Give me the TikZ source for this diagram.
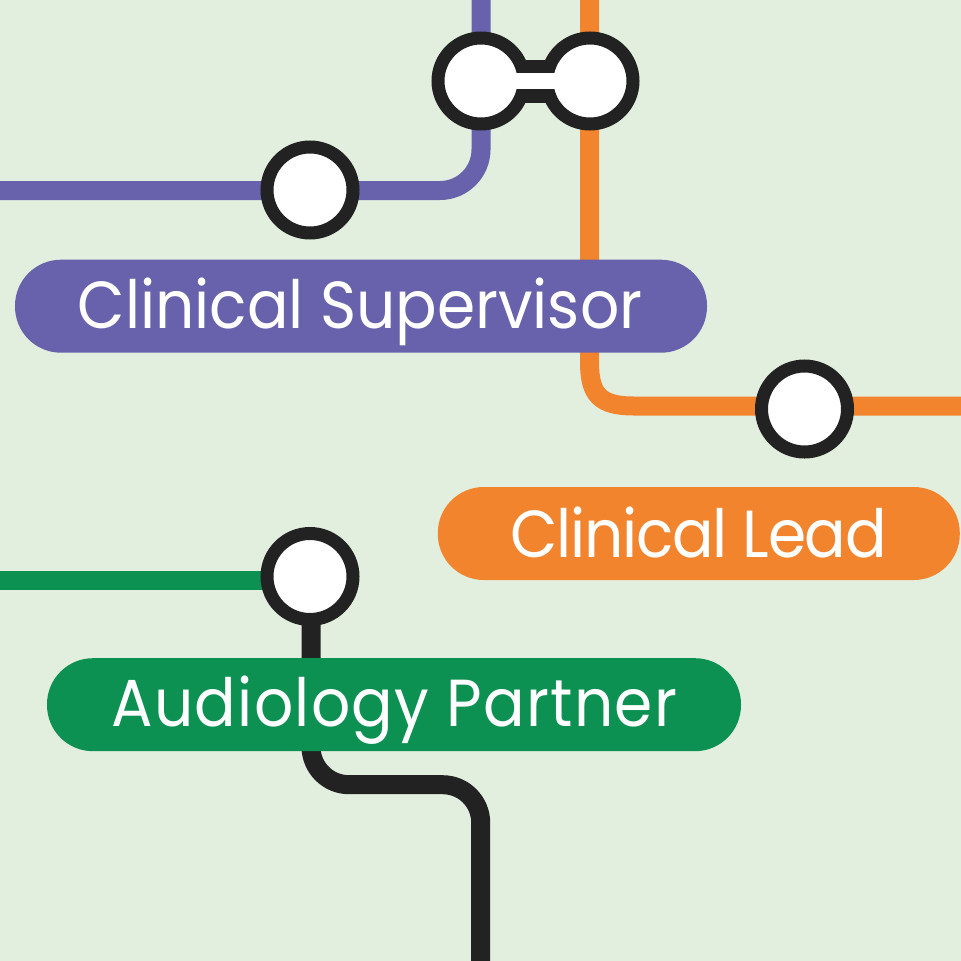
\documentclass[tikz,border=0pt]{standalone}
\usepackage{fontspec}
\setmainfont{Poppins}
\usetikzlibrary{backgrounds}
\definecolor{bgc}{HTML}{E2EFDF}
\definecolor{purp}{HTML}{6762AB}
\definecolor{oran}{HTML}{F3842E}
\definecolor{gree}{HTML}{0C9153}
\definecolor{blk}{HTML}{222222}
\newfontfamily\lblA{Poppins}[FakeStretch=0.925]
\newfontfamily\lblB{Poppins}[FakeStretch=0.925,LetterSpace=-1.9]
\newfontfamily\lblC{Poppins}[FakeStretch=0.925,LetterSpace=1.85]
\tikzset{
 x=1pt,y=-1pt,
 stn/.style={circle,draw=blk,fill=white,line width=13pt,minimum size=86pt,inner sep=0pt},
 lbl/.style={rounded corners=46pt,minimum height=93pt,inner sep=0pt},
 lbltext/.style={text=white,inner sep=0pt,anchor=base},
 route/.style={line width=19pt,rounded corners=41pt},
}
\begin{document}
\begin{tikzpicture}
\useasboundingbox (0,0) rectangle (961,961);
\coordinate (pa) at (0,190.5);
\coordinate (pb) at (481,0);
\coordinate (oa) at (589.5,0);
\coordinate (ob) at (961,406);
\coordinate (oc) at (589.5,362);
\coordinate (od) at (634,406);
\coordinate (ga) at (0,580);
\coordinate (ka) at (480.7,961);
\node[stn] (s1) at (310,190) {};
\node[stn] (s2) at (481,81) {};
\node[stn] (s3) at (590,81) {};
\node[stn] (s4) at (804.5,409) {};
\node[stn] (s5) at (310,576.5) {};
\begin{pgfonlayer}{background}
\fill[bgc] (0,0) rectangle (961,961);
\draw[route,purp] (pa) -- (pa -| pb) -- (pb);
\draw[oran,line width=19pt] (oa) -- (oc) .. controls (589.5,395) and (600,406) .. (od) -- (ob);
\draw[gree,line width=19pt] (ga) -- (ga -| s5);
\draw[route,rounded corners=38pt,blk] (s5.center) ++(1,0) -- (311,784.7) -- (480.7,784.7) -- (ka);
\draw[blk,line width=43pt] (s2.center) -- (s3.center);
\end{pgfonlayer}
\draw[white,line width=16pt] (s2.center) -- (s3.center);
\node[lbl,fill=purp,minimum width=692pt] (l1) at (361,306.2) {};
\node[lbl,fill=oran,minimum width=522pt] (l2) at (698.8,533.5) {};
\node[lbl,fill=gree,minimum width=694pt] (l3) at (394,704.7) {};
\node[lbltext,font=\lblA\fontsize{66.5}{67}\selectfont] (t1) at (360,328.3) {Clinical Supervisor};
\node[lbltext,font=\lblB\fontsize{66.5}{67}\selectfont] (t2) at (698.5,557.5) {Clinical Lead};
\node[lbltext,font=\lblC\fontsize{66.5}{67}\selectfont] (t3) at (394.5,726.7) {Audiology Partner};
\end{tikzpicture}
\end{document}
